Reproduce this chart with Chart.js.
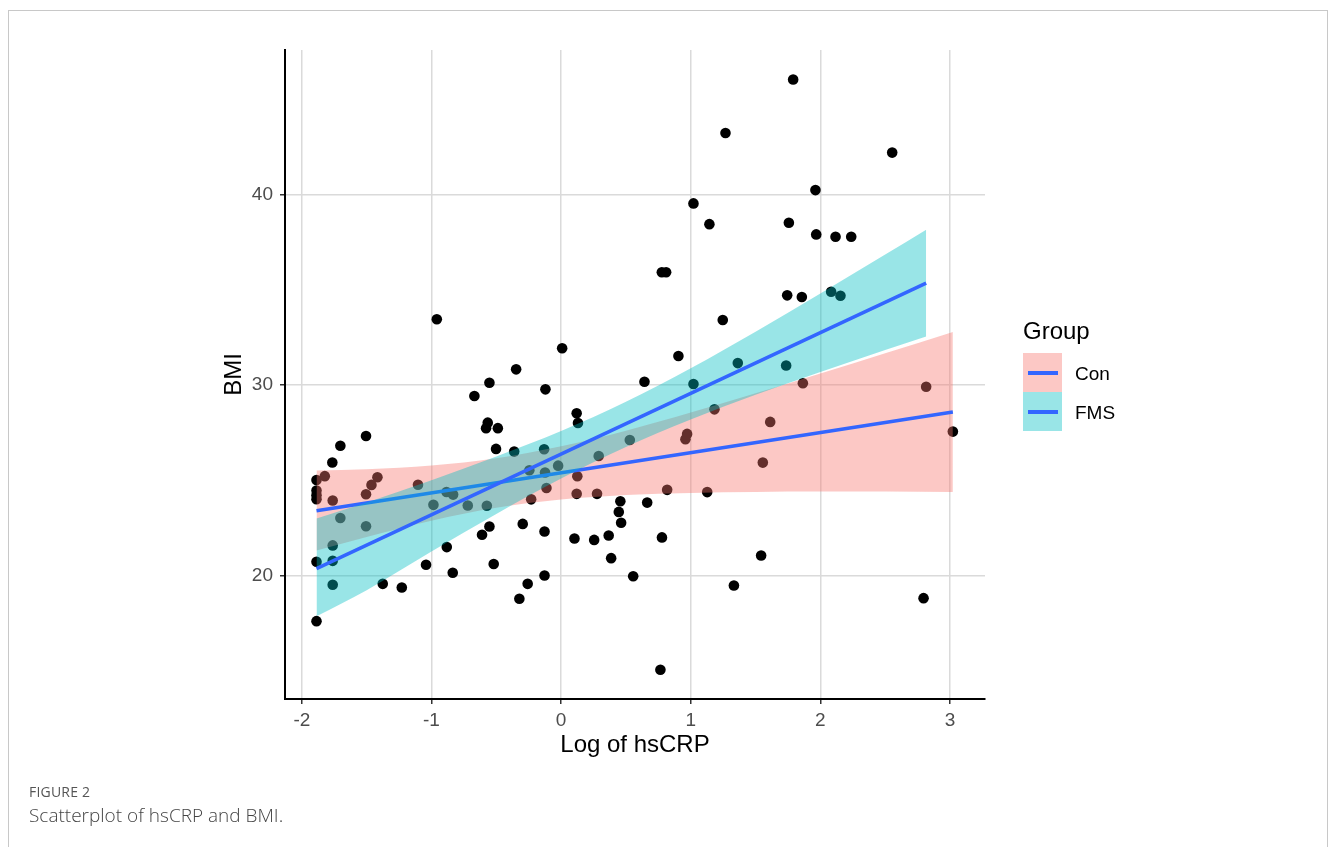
<!DOCTYPE html>
<html>
<head>
<meta charset="utf-8">
<script src="https://cdn.jsdelivr.net/npm/chart.js@4.4.1/dist/chart.umd.min.js"></script>
<style>
html,body{margin:0;padding:0;background:#fff;}
body{width:1330px;height:847px;position:relative;overflow:hidden;font-family:"Liberation Sans",Arial,sans-serif;}
#frame{position:absolute;left:8px;top:10px;width:1320px;height:860px;border:1px solid #c8c8c8;box-sizing:border-box;}
#c{position:absolute;left:0;top:0;}
.lg{position:absolute;font-family:"Liberation Sans",Arial,sans-serif;color:#000;white-space:nowrap;}
.key{position:absolute;left:1023px;width:39px;height:39px;}
.keyline{position:absolute;left:5px;top:18px;width:30px;height:4px;background:#3366FF;}
.cap1{position:absolute;left:29px;top:782px;font-family:"Open Sans","Noto Sans",sans-serif;font-size:14px;color:#555;letter-spacing:0.2px;}
.cap2{position:absolute;left:29px;top:802px;font-family:"Open Sans","Noto Sans",sans-serif;font-size:19px;color:#444;font-weight:300;}
</style>
</head>
<body>
<div id="frame"></div>
<canvas id="c" width="1330" height="847"></canvas>
<div class="lg" style="left:1023px;top:317px;font-size:24px;">Group</div>
<div class="key" style="top:353px;background:rgba(248,118,109,0.4);"><div class="keyline"></div></div>
<div class="key" style="top:392px;background:rgba(0,191,196,0.4);"><div class="keyline"></div></div>
<div class="lg" style="left:1075px;top:363px;font-size:19px;">Con</div>
<div class="lg" style="left:1075px;top:402px;font-size:19px;">FMS</div>
<div class="cap1">FIGURE 2</div>
<div class="cap2">Scatterplot of hsCRP and BMI.</div>
<script>
// ---- data ----
const xTicks = [-2, -1, 0, 1, 2, 3];
const yTicks = [20, 30, 40];

const pointX = [1.79, 1.268, 2.554, 1.962, 1.021, 1.144, 1.757, 1.968, 2.117, 2.238,
  0.777, 0.81, 1.744, 1.857, 2.083, 2.155, 1.247, 0.905, 1.363, 1.736,
  -0.959, 0.008, -0.347, -0.553, -0.669, -0.121, 0.643, 1.021, 1.865, 2.816,
  3.022, 0.12, 0.13, -0.566, -0.579, -0.488, -0.502, -0.362, -0.131, 1.183,
  1.613, 0.972, 0.959, 0.53, 0.29, -0.023, -0.245, -0.124, 0.125, -0.113,
  -0.231, 0.12, 0.277, 1.556, 0.818, 1.127, 0.457, 0.445, 0.463, 0.664,
  0.103, 0.255, 0.367, 0.386, 0.556, 0.778, 1.543, 1.333, 2.796, 0.766,
  -0.296, -0.128, -0.128, -0.258, -0.322, -0.553, -0.61, -0.52, -0.882, -0.836,
  -1.042, -1.376, -1.229, -0.985, -0.72, -0.573, -0.884, -0.833, -1.104,
  -1.703, -1.505, -1.765, -1.887, -1.823, -1.887, -1.887, -1.887, -1.762, -1.417,
  -1.463, -1.505, -1.703, -1.505, -1.762, -1.887, -1.762, -1.762, -1.887];
const pointY = [46.05, 43.24, 42.21, 40.24, 39.54, 38.45, 38.52, 37.91, 37.79, 37.79,
  35.92, 35.92, 34.71, 34.62, 34.90, 34.69, 33.41, 31.52, 31.15, 31.02,
  33.45, 31.93, 30.82, 30.12, 29.42, 29.77, 30.17, 30.05, 30.09, 29.91,
  27.55, 28.51, 28.00, 28.02, 27.73, 27.73, 26.64, 26.50, 26.62, 28.72,
  28.06, 27.43, 27.15, 27.11, 26.27, 25.76, 25.52, 25.40, 25.20, 24.59,
  23.99, 24.28, 24.28, 25.92, 24.49, 24.37, 23.89, 23.33, 22.76, 23.82,
  21.93, 21.86, 22.09, 20.90, 19.95, 21.99, 21.04, 19.46, 18.80, 15.04,
  22.70, 22.30, 19.99, 19.55, 18.77, 22.56, 22.13, 20.59, 21.48, 20.13,
  20.55, 19.55, 19.36, 23.70, 23.67, 23.65, 24.38, 24.24, 24.76,
  26.81, 27.32, 25.93, 25.01, 25.21, 24.45, 24.20, 24.00, 23.93, 25.15,
  24.75, 24.26, 23.01, 22.58, 21.57, 20.71, 20.76, 19.50, 17.59];

// fitted lines (end points)
const conLineX = [-1.887, 3.022];
const conLineY = [23.39, 28.58];
const fmsLineX = [-1.887, 2.816];
const fmsLineY = [20.35, 35.35];

// confidence bands (edges)
const conBandX = [-1.887, -1.5, -1, -0.5, 0, 0.5, 1, 1.5, 2, 2.5, 3.022];
const conUpper = [25.50, 25.57, 25.77, 26.15, 26.78, 27.60, 28.55, 29.56, 30.60, 31.66, 32.78];
const conLower = [21.30, 22.01, 22.87, 23.55, 23.98, 24.22, 24.33, 24.38, 24.40, 24.40, 24.38];
const fmsBandX = [-1.887, -1.5, -1, -0.5, 0, 0.5, 1, 1.5, 2, 2.5, 2.816];
const fmsUpper = [22.98, 23.82, 24.99, 26.24, 27.58, 29.12, 30.88, 32.80, 34.80, 36.85, 38.15];
const fmsLower = [17.85, 19.22, 21.25, 23.22, 25.08, 26.74, 28.18, 29.48, 30.68, 31.84, 32.55];

const xyOf = (xs, ys) => xs.map((x, i) => ({x: x, y: ys[i]}));

const PINK = 'rgba(248,118,109,0.4)';
const TEAL = 'rgba(0,191,196,0.4)';
const BLUE = '#3366FF';

const bandStyle = {showLine: true, borderWidth: 0, borderColor: 'rgba(0,0,0,0)', pointRadius: 0,
  cubicInterpolationMode: 'monotone'};

new Chart(document.getElementById('c'), {
  type: 'scatter',
  data: {
    datasets: [
      {label: 'points', data: xyOf(pointX, pointY), backgroundColor: '#000', borderWidth: 0,
        pointRadius: 5.3, order: 10},
      Object.assign({label: 'conU', data: xyOf(conBandX, conUpper), fill: '+1', backgroundColor: PINK, order: 6}, bandStyle),
      Object.assign({label: 'conL', data: xyOf(conBandX, conLower), fill: false, order: 6}, bandStyle),
      {label: 'Con', data: xyOf(conLineX, conLineY), showLine: true, fill: false, borderColor: BLUE,
        borderWidth: 3.5, pointRadius: 0, order: 4},
      Object.assign({label: 'fmsU', data: xyOf(fmsBandX, fmsUpper), fill: '+1', backgroundColor: TEAL, order: 3}, bandStyle),
      Object.assign({label: 'fmsL', data: xyOf(fmsBandX, fmsLower), fill: false, order: 3}, bandStyle),
      {label: 'FMS', data: xyOf(fmsLineX, fmsLineY), showLine: true, fill: false, borderColor: BLUE,
        borderWidth: 3.5, pointRadius: 0, order: 1}
    ]
  },
  options: {
    responsive: false,
    animation: false,
    events: [],
    layout: {padding: {left: 200, right: 345, top: 50, bottom: 78}},
    plugins: {
      legend: {display: false},
      tooltip: {enabled: false},
      filler: {propagate: false, drawTime: 'beforeDatasetDraw'}
    },
    scales: {
      x: {
        type: 'linear', min: -2.13, max: 3.27,
        afterFit: s => { s.height = 70; },
        afterBuildTicks: s => { s.ticks = xTicks.map(v => ({value: v})); },
        ticks: {font: {family: "'Liberation Sans', Arial, sans-serif", size: 19}, color: '#4d4d4d', padding: 5,
          callback: v => String(v), maxRotation: 0},
        grid: {color: '#dadada', lineWidth: 1.5, tickColor: '#333', tickLength: 5, tickWidth: 1.5},
        border: {display: true, color: '#000', width: 2},
        title: {display: true, text: 'Log of hsCRP', color: '#000',
          font: {family: "'Liberation Sans', Arial, sans-serif", size: 24}, padding: {top: 0, bottom: 9}}
      },
      y: {
        type: 'linear', min: 13.5, max: 47.6,
        afterFit: s => { s.width = 85; },
        afterBuildTicks: s => { s.ticks = yTicks.map(v => ({value: v})); },
        ticks: {font: {family: "'Liberation Sans', Arial, sans-serif", size: 19}, color: '#4d4d4d', padding: 7,
          callback: v => String(v)},
        grid: {color: '#dadada', lineWidth: 1.5, tickColor: '#333', tickLength: 5, tickWidth: 1.5},
        border: {display: true, color: '#000', width: 2},
        title: {display: true, text: 'BMI', color: '#000',
          font: {family: "'Liberation Sans', Arial, sans-serif", size: 24}, padding: {top: 20, bottom: 0}}
      }
    }
  }
});
</script>
</body>
</html>
